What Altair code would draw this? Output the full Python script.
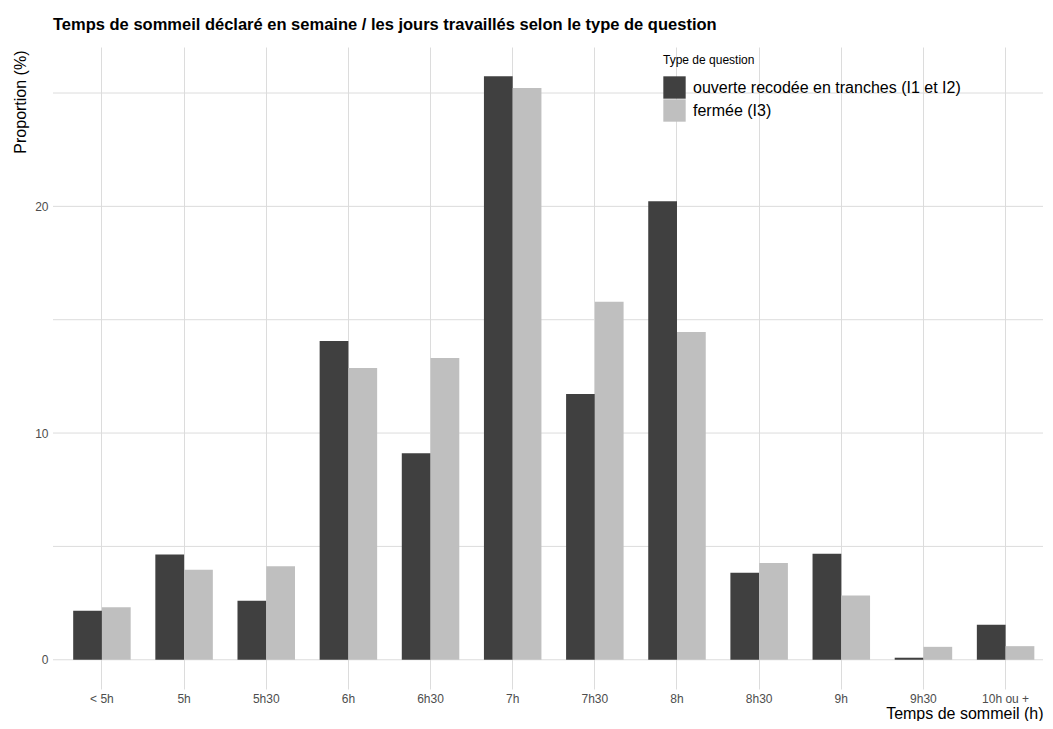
import altair as alt
import pandas as pd

# ---- data ----
categories = ["< 5h", "5h", "5h30", "6h", "6h30", "7h", "7h30", "8h", "8h30", "9h", "9h30", "10h ou +"]
ouverte = [2.16, 4.64, 2.60, 14.06, 9.11, 25.74, 11.72, 20.23, 3.84, 4.68, 0.09, 1.54]
fermee = [2.32, 3.97, 4.13, 12.87, 13.31, 25.22, 15.79, 14.46, 4.27, 2.84, 0.57, 0.60]
series_names = ["ouverte recodée en tranches (I1 et I2)", "fermée (I3)"]
series_colors = ["#404040", "#bfbfbf"]
grid_values = [0, 5, 10, 15, 20, 25]
y_label_values = [0, 10, 20]

rows = []
for c, a, b in zip(categories, ouverte, fermee):
    rows.append({"cat": c, "type": series_names[0], "val": a})
    rows.append({"cat": c, "type": series_names[1], "val": b})
df = pd.DataFrame(rows)
grid_df = pd.DataFrame({"g": grid_values})

W, H = 990, 642
FONT = "Liberation Sans"
GRID = "#dcdcdc"

yscale = alt.Scale(domain=[-1.29, 27.03], nice=False, zero=False)
yaxis = alt.Axis(
    values=y_label_values,
    grid=False,
    ticks=False,
    domain=False,
    labelFontSize=12,
    labelColor="#4d4d4d",
    labelPadding=5,
    title="Proportion (%)",
    titleAngle=270,
    titleAlign="right",
    titleBaseline="middle",
    titleX=-33,
    titleY=3,
    titleFontSize=16,
    titleFontWeight="normal",
    titleColor="black",
)

grid = alt.Chart(grid_df).mark_rule(color=GRID, strokeWidth=1).encode(
    y=alt.Y("g:Q", scale=yscale, axis=yaxis, title="Proportion (%)")
)

bars = alt.Chart(df).mark_bar().encode(
    x=alt.X(
        "cat:N",
        sort=categories,
        scale=alt.Scale(paddingInner=0.3, paddingOuter=0.1755, align=0.7),
        axis=alt.Axis(
            title="Temps de sommeil (h)",
            labelAngle=0,
            labelFontSize=12,
            labelColor="#4d4d4d",
            labelPadding=4,
            ticks=False,
            domain=False,
            grid=True,
            gridColor=GRID,
            gridWidth=1,
            bandPosition=0.5,
            titleAlign="right",
            titleBaseline="alphabetic",
            titleX=W,
            titleY=29,
            titleFontSize=16,
            titleFontWeight="normal",
            titleColor="black",
        ),
    ),
    xOffset=alt.XOffset("type:N", sort=series_names,
                        scale=alt.Scale(paddingInner=0, paddingOuter=0)),
    y=alt.Y("val:Q", scale=yscale, axis=yaxis, title="Proportion (%)"),
    y2=alt.datum(0),
    color=alt.Color(
        "type:N",
        sort=series_names,
        scale=alt.Scale(domain=series_names, range=series_colors),
        legend=alt.Legend(
            title="Type de question",
            orient="none",
            legendX=610,
            legendY=8,
            symbolType="square",
            symbolSize=500,
            symbolStrokeWidth=0,
            symbolOpacity=1,
            labelFontSize=16,
            labelColor="black",
            labelOffset=7,
            labelLimit=0,
            titleFontSize=12,
            titleFontWeight="normal",
            titleColor="black",
            titlePadding=9,
            rowPadding=0,
            padding=0,
        ),
    ),
)

chart = alt.layer(grid, bars).properties(
    width=W,
    height=H,
    title=alt.Title(
        "Temps de sommeil déclaré en semaine / les jours travaillés selon le type de question",
        anchor="start",
        frame="group",
        fontSize=16.5,
        fontWeight="bold",
        color="black",
        baseline="alphabetic",
        offset=1,
    ),
    autosize=alt.AutoSizeParams(type="none"),
    padding={"left": 45, "top": 39, "right": 2, "bottom": 32},
).configure(font=FONT).configure_view(stroke=None)

chart.save("out.html", embed_options={"renderer": "svg", "actions": False})
